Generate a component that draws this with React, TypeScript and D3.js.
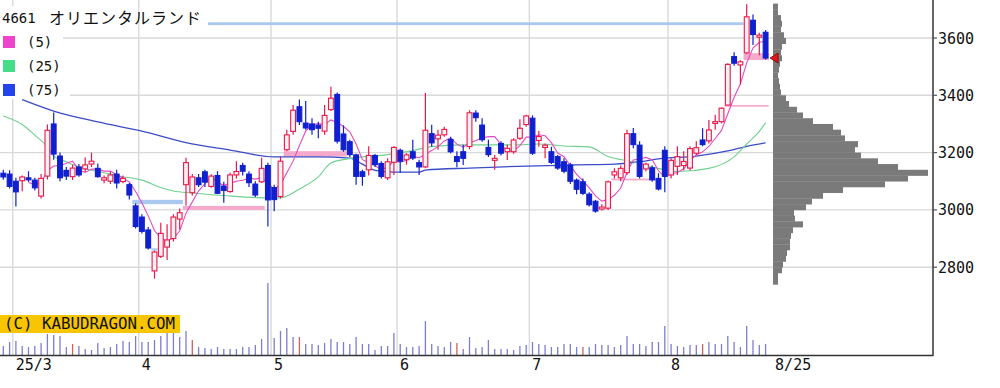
import React from 'react';
import * as d3 from 'd3';

const W = 1000;
const H = 388;

// Daily OHLC (yen), 2025-02-27 .. 2025-08-25
const openP = [3128,3125,3100,3102,3112,3104,3048,3118,3300,3188,3138,3116,3150,3143,3160,3145,3104,3100,3125,3099,3088,3014,2975,2930,2787,2838,2870,2900,2968,3088,3060,3112,3133,3082,3120,3083,3064,3122,3155,3125,3090,3098,3155,3078,3047,3210,3274,3360,3303,3300,3296,3275,3350,3403,3265,3238,3192,3133,3140,3190,3162,3112,3166,3208,3175,3203,3165,3150,3266,3248,3262,3246,3186,3203,3221,3338,3296,3218,3173,3232,3203,3203,3250,3298,3320,3242,3218,3203,3186,3168,3157,3104,3098,3055,3030,3003,3006,3122,3112,3130,3266,3226,3143,3147,3110,3208,3122,3152,3155,3146,3198,3244,3241,3302,3308,3366,3535,3506,3548,3662,3603,3620];
const highP = [3140,3138,3112,3120,3135,3112,3125,3298,3340,3200,3150,3158,3160,3183,3200,3162,3120,3134,3140,3120,3095,3022,2985,2940,2858,2955,2950,2985,3005,3182,3125,3125,3140,3124,3135,3098,3130,3170,3165,3135,3100,3182,3165,3088,3186,3280,3366,3385,3380,3320,3308,3366,3430,3410,3295,3245,3196,3140,3222,3195,3170,3180,3222,3214,3198,3245,3175,3408,3297,3280,3290,3255,3205,3227,3348,3348,3320,3245,3192,3240,3227,3250,3316,3332,3330,3275,3232,3220,3192,3180,3165,3110,3110,3062,3035,3020,3103,3145,3155,3280,3286,3240,3165,3155,3128,3222,3180,3222,3205,3222,3240,3285,3314,3332,3358,3512,3550,3522,3718,3682,3618,3628];
const lowP = [3105,3075,3012,3065,3098,3068,3040,3106,3175,3100,3104,3104,3116,3133,3150,3112,3093,3090,3075,3093,3036,2935,2918,2862,2760,2832,2825,2890,2932,3015,3050,3080,3080,3077,3055,3025,3060,3110,3120,3080,3045,3094,2942,2995,3040,3205,3262,3296,3280,3262,3250,3262,3345,3232,3203,3185,3088,3084,3120,3150,3110,3104,3122,3130,3158,3174,3122,3145,3220,3210,3255,3198,3149,3157,3212,3308,3238,3185,3140,3190,3174,3196,3244,3290,3192,3220,3180,3160,3140,3128,3090,3055,3052,3012,2990,2998,3000,3110,3100,3122,3215,3110,3135,3098,3068,3062,3110,3122,3138,3138,3192,3222,3232,3280,3302,3366,3503,3438,3545,3576,3540,3525];
const closeP = [3115,3082,3063,3115,3105,3077,3110,3278,3195,3112,3118,3146,3122,3157,3170,3116,3112,3122,3094,3110,3052,2942,2925,2867,2853,2918,2895,2975,2990,3165,3115,3088,3097,3118,3058,3068,3122,3134,3135,3095,3052,3145,3035,3036,3170,3262,3348,3308,3286,3280,3285,3330,3390,3240,3210,3193,3117,3117,3190,3158,3117,3168,3218,3170,3192,3181,3150,3278,3234,3261,3281,3203,3169,3180,3339,3322,3245,3193,3180,3198,3215,3244,3285,3328,3198,3256,3226,3166,3146,3135,3100,3072,3058,3018,2996,3010,3098,3133,3145,3266,3228,3117,3160,3105,3073,3117,3173,3186,3169,3214,3217,3228,3279,3308,3355,3508,3512,3517,3674,3612,3610,3530];
// Volume (100k shares)
const volume = [9,13,14,9,8,9,12,21,20,19,8,11,9,6,5,12,7,8,11,14,13,19,13,13,15,19,22,23,18,24,15,8,7,6,8,6,6,6,8,8,10,16,72,17,24,27,18,18,11,11,10,12,16,13,13,11,18,11,11,5,9,9,22,11,8,8,9,34,11,9,8,13,12,6,18,7,8,15,6,6,6,5,9,10,13,11,10,8,8,11,11,8,8,8,11,10,10,8,10,19,11,11,9,13,13,29,11,9,8,10,10,11,13,11,11,19,13,8,29,15,10,11];
const sqDays = [11, 30, 47, 72, 92, 111];

// Moving averages (day index, price)
const ma25Idx = [0,3,5,7,8,10,12,15,19,22,25,27,30,35,40,44,47,50,52,55,61,65,68,73,81,85,89,93,96,100,103,107,112,116,118,120,121];
const ma25Val = [3328,3298,3261,3220,3188,3168,3150,3134,3116,3104,3078,3066,3059,3050,3043,3042,3073,3115,3164,3179,3193,3207,3221,3227,3227,3230,3223,3220,3186,3168,3150,3134,3145,3185,3230,3274,3304];
const ma75Idx = [3,8,15,22,29,36,43,50,55,57,59,62,66,67,74,83,91,97,101,104,110,115,118,121];
const ma75Val = [3385,3345,3307,3275,3235,3209,3185,3185,3181,3160,3138,3132,3132,3139,3146,3153,3157,3160,3168,3178,3188,3206,3222,3234];

// Price gaps (windows): first day after gap, day that filled it, price range, kind
const gapStart = [33, 21, 24, 29, 45, 97, 115, 118];
const gapEnd = [118, 29, 25, 42, 55, 105, 122, 122];
const gapLow = [3645, 3020, 2858, 3000, 3186, 3103, 3360, 3523];
const gapHigh = [3655, 3035, 2866, 3014, 3205, 3109, 3366, 3547];
const gapUp = [false, false, false, true, true, true, true, true];

// Volume-by-price profile (20-yen bins, lower edge)
const profileLow = d3.range(2740, 3720, 20);
const profileVal = [5,5,9,10,13,14,17,17,18,20,30,22,21,33,39,50,70,112,135,155,125,105,88,82,85,72,68,60,40,30,24,16,13,8,7,6,5,6,7,9,8,9,13,11,8,9,8,5,5];

// Axis ticks
const priceTicks = [2800, 3000, 3200, 3400, 3600];
const monthStart = [2, 22, 43, 63, 84, 106];
const monthLabel = ['25/3', '4', '5', '6', '7', '8'];
const lastLabel = '8/25';

const legendItems = ['(5)', '(25)', '(75)'];
const legendColors = ['#ee44cc', '#44dd88', '#2244ee'];

const RED = '#e8194a';
const BLUE = '#1020d0';
const GRID = '#d9d9d9';
const MONO = '"DejaVu Sans Mono", monospace';

export default function App() {
  const n = closeP.length;
  const x = d3.scaleLinear().domain([0, n - 1]).range([3.3, 765.6]);
  const y = d3.scaleLinear().domain([2800, 3600]).range([267.2, 38]);
  const vy = d3.scaleLinear().domain([0, 80]).range([355, 275]);
  const px = d3.scaleLinear().domain([0, 160]).range([773, 933]);

  const ma5: [number, number][] = [];
  for (let i = 4; i < n; i++) {
    ma5.push([i, d3.mean(closeP.slice(i - 4, i + 1)) as number]);
  }
  const ma25 = ma25Idx.map((d, k) => [d, ma25Val[k]] as [number, number]);
  const ma75 = ma75Idx.map((d, k) => [d, ma75Val[k]] as [number, number]);
  const line = d3.line<[number, number]>().x(d => x(d[0])).y(d => y(d[1]));
  const smooth = d3.line<[number, number]>().x(d => x(d[0])).y(d => y(d[1])).curve(d3.curveMonotoneX);

  const lastClose = closeP[n - 1];
  const tx = x(n - 1) + 4.5;
  const ty = y(lastClose);

  return (
    <svg width={W} height={H} style={{ position: 'absolute', left: 0, top: 0, background: '#fff' }}>
      <rect x={0} y={0} width={W} height={H} fill="#fff" />
      {/* grid */}
      {priceTicks.map(t => (
        <line key={'hg' + t} x1={0} x2={933} y1={y(t)} y2={y(t)} stroke={GRID} strokeWidth={1.4} />
      ))}
      {monthStart.map(m => (
        <line key={'vg' + m} x1={x(m - 0.5)} x2={x(m - 0.5)} y1={0} y2={355} stroke={GRID} strokeWidth={1.4} />
      ))}
      {/* volume profile */}
      {profileLow.map((p, k) => (
        <rect key={'pf' + k} x={px(0)} y={y(p + 20)} width={px(profileVal[k]) - px(0)} height={y(p) - y(p + 20) + 0.3} fill="#7a7a7a" />
      ))}
      {/* gaps */}
      {gapStart.map((s, k) => (
        <rect key={'gap' + k} x={x(s - 0.5)} width={x(gapEnd[k] - 0.5) - x(s - 0.5)} y={y(gapHigh[k])} height={Math.max(1.5, y(gapLow[k]) - y(gapHigh[k]))} fill={gapUp[k] ? '#f6aacb' : '#aac8f0'} />
      ))}
      {/* moving averages */}
      <path d={smooth(ma75) || ''} fill="none" stroke="#3a4cc8" strokeWidth={1.3} />
      <path d={smooth(ma25) || ''} fill="none" stroke="#70d08e" strokeWidth={1.1} />
      <path d={line(ma5) || ''} fill="none" stroke="#e24cc4" strokeWidth={1.1} />
      {/* candles */}
      {closeP.map((c, i) => {
        const o = openP[i];
        const up = c >= o;
        const col = up ? RED : BLUE;
        const top = y(Math.max(o, c));
        const bot = y(Math.min(o, c));
        return (
          <g key={'c' + i}>
            <line x1={x(i)} x2={x(i)} y1={y(highP[i])} y2={y(lowP[i])} stroke={col} strokeWidth={1.2} />
            <rect x={x(i) - 2.4} y={top} width={4.8} height={Math.max(1.2, bot - top)} fill={up ? '#fff0f4' : BLUE} stroke={col} strokeWidth={1.1} />
          </g>
        );
      })}
      {/* volume */}
      {volume.map((v, i) => (
        <line key={'v' + i} x1={x(i)} x2={x(i)} y1={vy(0)} y2={vy(v)} stroke={sqDays.includes(i) ? '#d06060' : '#7d7dd2'} strokeWidth={1.3} />
      ))}
      {/* last price marker */}
      <path d={`M${tx},${ty} L${tx + 8},${ty - 5} L${tx + 8},${ty + 5} Z`} fill="#e01818" stroke="#700" strokeWidth={0.8} />
      {/* frame */}
      <line x1={933} x2={933} y1={0} y2={356} stroke="#333" strokeWidth={1.5} />
      <line x1={0} x2={933} y1={355.5} y2={355.5} stroke="#333" strokeWidth={1.5} />
      {priceTicks.map(t => (
        <g key={'yt' + t}>
          <line x1={933} x2={937} y1={y(t)} y2={y(t)} stroke="#555" strokeWidth={1.2} />
          <text x={938} y={y(t) + 5.5} fontFamily={MONO} fontSize={15} fill="#111">{t}</text>
        </g>
      ))}
      {monthStart.map((m, k) => (
        <text key={'xl' + m} x={x(m - 0.5) + 3} y={370} fontFamily={MONO} fontSize={15} fill="#111">{monthLabel[k]}</text>
      ))}
      <text x={x(n - 1) + 9.5} y={370} fontFamily={MONO} fontSize={15} fill="#111">{lastLabel}</text>
      {/* watermark */}
      <rect x={0} y={315} width={180} height={18} fill="#f7c600" />
      <text x={4} y={329} fontFamily={MONO} fontSize={15} fill="#111" textLength={171} lengthAdjust="spacingAndGlyphs">(C) KABUDRAGON.COM</text>
      {/* legend */}
      <rect x={0} y={6} width={63} height={56} fill="#fff" />
      <rect x={0} y={60} width={70} height={39} fill="#fff" />
      <text x={2} y={23} fontFamily={MONO} fontSize={14} fill="#111">4661</text>
      <text x={49} y={24} fontFamily='"Noto Sans CJK JP", sans-serif' fontSize={16} letterSpacing={1} fill="#111">オリエンタルランド</text>
      {legendItems.map((t, k) => (
        <g key={'lg' + k}>
          <rect x={3} y={36 + k * 24} width={12} height={12} fill={legendColors[k]} />
          <text x={27} y={47 + k * 24} fontFamily={MONO} fontSize={14} fill="#111">{t}</text>
        </g>
      ))}
    </svg>
  );
}
